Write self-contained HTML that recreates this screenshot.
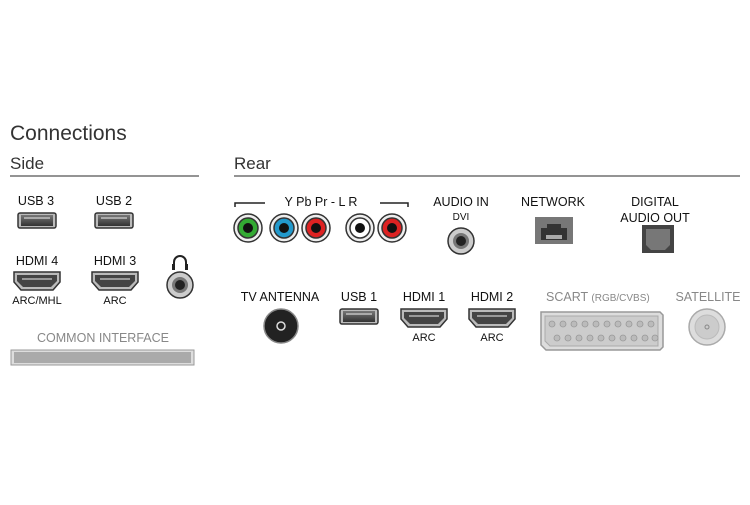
<!DOCTYPE html>
<html><head><style>
body{margin:0;background:#fff;}
svg text{font-family:"Liberation Sans",sans-serif;}
</style></head><body>
<svg width="750" height="500" viewBox="0 0 750 500" xmlns="http://www.w3.org/2000/svg">
<defs>
<linearGradient id="usb" x1="0" y1="0" x2="0" y2="1"><stop offset="0" stop-color="#777"/><stop offset="1" stop-color="#333"/></linearGradient>
<g id="usbp"><rect x="-19" y="-7" width="38" height="15" rx="2" fill="#bbb" stroke="#333" stroke-width="1.5"/><rect x="-16" y="-5" width="32" height="11" fill="url(#usb)"/><rect x="-13" y="-3" width="26" height="2" fill="#aaa"/></g>
<g id="hdmi"><path d="M-23,-9 H23 V1 L16,9 H-16 L-23,1 Z" fill="#bbb" stroke="#333" stroke-width="1.5"/><path d="M-20,-6 H20 V0 L14,6 H-14 L-20,0 Z" fill="#444"/><rect x="-15" y="-3" width="30" height="2" fill="#999"/></g>
</defs>
<text x="10" y="140" font-size="21" fill="#333">Connections</text>
<text x="10" y="169" font-size="17" fill="#333">Side</text>
<line x1="10" y1="176" x2="199" y2="176" stroke="#555" stroke-width="1.2"/>
<text x="234" y="169" font-size="17" fill="#333">Rear</text>
<line x1="234" y1="176" x2="740" y2="176" stroke="#555" stroke-width="1.2"/>
<g font-size="12.5" fill="#111" text-anchor="middle">
<text x="36" y="205">USB 3</text><text x="114" y="205">USB 2</text>
<text x="37" y="265">HDMI 4</text><text x="115" y="265">HDMI 3</text>
<text x="37" y="304" font-size="11">ARC/MHL</text><text x="115" y="304" font-size="11">ARC</text>
<text x="321" y="206">Y Pb Pr - L R</text>
<text x="461" y="206">AUDIO IN</text><text x="461" y="220" font-size="10">DVI</text>
<text x="553" y="206">NETWORK</text>
<text x="655" y="206">DIGITAL</text><text x="655" y="222">AUDIO OUT</text>
<text x="280" y="301">TV ANTENNA</text><text x="359" y="301">USB 1</text>
<text x="424" y="301">HDMI 1</text><text x="492" y="301">HDMI 2</text>
<text x="424" y="341" font-size="11">ARC</text><text x="492" y="341" font-size="11">ARC</text>
</g>
<g font-size="12.5" fill="#888">
<text x="103" y="342" text-anchor="middle">COMMON INTERFACE</text>
<text x="546" y="301">SCART <tspan font-size="10">(RGB/CVBS)</tspan></text>
<text x="708" y="301" text-anchor="middle">SATELLITE</text>
</g>
<use href="#usbp" x="37" y="220"/><use href="#usbp" x="114" y="220"/><use href="#usbp" x="359" y="316"/>
<use href="#hdmi" x="37" y="281"/><use href="#hdmi" x="115" y="281"/><use href="#hdmi" x="424" y="318"/><use href="#hdmi" x="492" y="318"/>
<!-- headphone -->
<path d="M174,268 v-6 a6,6 0 0 1 12,0 v6" fill="none" stroke="#222" stroke-width="2"/>
<rect x="172" y="264" width="3" height="6" fill="#222"/><rect x="185" y="264" width="3" height="6" fill="#222"/>
<circle cx="180" cy="285" r="13" fill="#ccc" stroke="#333" stroke-width="1.5"/><circle cx="180" cy="285" r="8" fill="#777"/><circle cx="180" cy="285" r="5" fill="#222"/>
<!-- CI slot -->
<rect x="11" y="350" width="183" height="15" fill="#ddd" stroke="#999"/><rect x="14" y="352" width="177" height="11" fill="#aaa"/>
<!-- brackets -->
<path d="M235,207 v-4 h30" fill="none" stroke="#222" stroke-width="1.5"/>
<path d="M380,203 h28 v4" fill="none" stroke="#222" stroke-width="1.5"/>
<!-- RCA -->
<g stroke="#333" stroke-width="1.5">
<circle cx="248" cy="228" r="14" fill="#eee"/><circle cx="248" cy="228" r="10" fill="#3a3"/>
<circle cx="284" cy="228" r="14" fill="#eee"/><circle cx="284" cy="228" r="10" fill="#29c"/>
<circle cx="316" cy="228" r="14" fill="#eee"/><circle cx="316" cy="228" r="10" fill="#d22"/>
<circle cx="360" cy="228" r="14" fill="#eee"/><circle cx="360" cy="228" r="10" fill="#fff"/>
<circle cx="392" cy="228" r="14" fill="#eee"/><circle cx="392" cy="228" r="10" fill="#d22"/>
</g>
<g fill="#111"><circle cx="248" cy="228" r="5"/><circle cx="284" cy="228" r="5"/><circle cx="316" cy="228" r="5"/><circle cx="360" cy="228" r="5"/><circle cx="392" cy="228" r="5"/></g>
<!-- audio in -->
<circle cx="461" cy="241" r="13" fill="#ccc" stroke="#333" stroke-width="1.5"/><circle cx="461" cy="241" r="8" fill="#777"/><circle cx="461" cy="241" r="5" fill="#222"/>
<!-- network -->
<rect x="535" y="217" width="38" height="27" fill="#777"/><path d="M541,240 v-12 h6 v-4 h14 v4 h6 v12 z" fill="#333"/><rect x="546" y="235" width="16" height="4" fill="#aaa"/>
<!-- optical -->
<rect x="642" y="225" width="32" height="28" fill="#444"/><path d="M646,229 h24 v16 l-5,5 h-14 l-5,-5 z" fill="#777"/>
<!-- antenna -->
<circle cx="281" cy="326" r="17" fill="#222" stroke="#888" stroke-width="1.5"/><circle cx="281" cy="326" r="4" fill="none" stroke="#ddd" stroke-width="1.5"/>
<!-- scart -->
<path d="M541,312 h119 l3,3 v32 l-3,3 h-114 l-5,-5 z" fill="#ddd" stroke="#999" stroke-width="1.5"/>
<path d="M545,316 h113 v30 h-108 l-5,-5 z" fill="#ccc" stroke="#aaa"/>
<g fill="#bbb" stroke="#999" stroke-width="0.8">
<circle cx="552" cy="324" r="3"/><circle cx="563" cy="324" r="3"/><circle cx="574" cy="324" r="3"/><circle cx="585" cy="324" r="3"/><circle cx="596" cy="324" r="3"/><circle cx="607" cy="324" r="3"/><circle cx="618" cy="324" r="3"/><circle cx="629" cy="324" r="3"/><circle cx="640" cy="324" r="3"/><circle cx="651" cy="324" r="3"/>
<circle cx="557" cy="338" r="3"/><circle cx="568" cy="338" r="3"/><circle cx="579" cy="338" r="3"/><circle cx="590" cy="338" r="3"/><circle cx="601" cy="338" r="3"/><circle cx="612" cy="338" r="3"/><circle cx="623" cy="338" r="3"/><circle cx="634" cy="338" r="3"/><circle cx="645" cy="338" r="3"/><circle cx="655" cy="338" r="3"/>
</g>
<!-- satellite -->
<circle cx="707" cy="327" r="18" fill="#ddd" stroke="#aaa" stroke-width="1.5"/><circle cx="707" cy="327" r="12" fill="#ccc" stroke="#bbb"/><circle cx="707" cy="327" r="2" fill="none" stroke="#888"/>
</svg>
</body></html>
